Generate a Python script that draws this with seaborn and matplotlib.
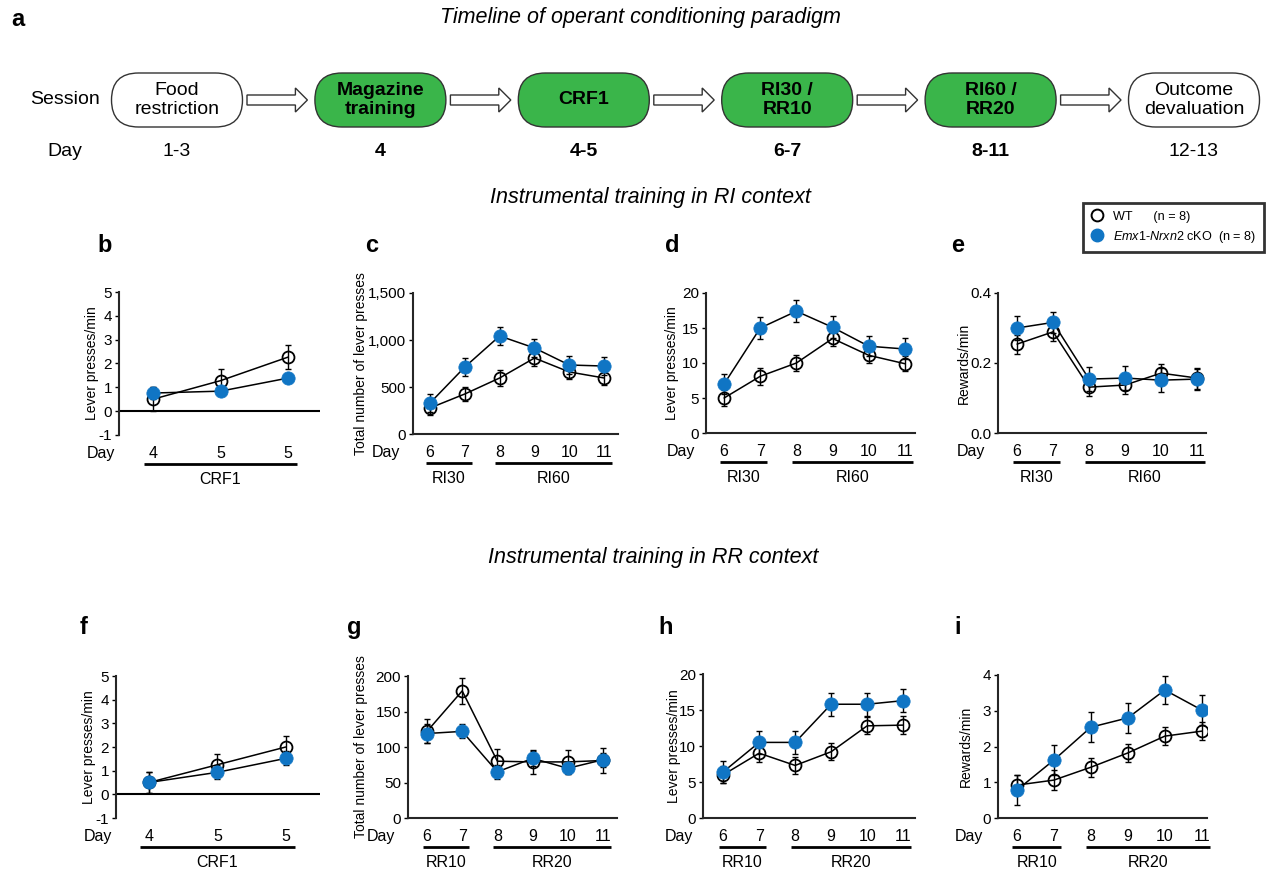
import numpy as np
import pandas as pd
import matplotlib
matplotlib.use("Agg")
import matplotlib.pyplot as plt
import matplotlib.transforms as mtrans
from matplotlib.patches import FancyBboxPatch, FancyArrow
from matplotlib.lines import Line2D
import seaborn as sns

# ---------------- data ----------------
sessions = ["Food\nrestriction", "Magazine\ntraining", "CRF1", "RI30 /\nRR10", "RI60 /\nRR20", "Outcome\ndevaluation"]
session_days = ["1-3", "4", "4-5", "6-7", "8-11", "12-13"]
session_active = [False, True, True, True, True, False]

crf_days = ["4", "5", "5"]
train_days = ["6", "7", "8", "9", "10", "11"]

# b : CRF1, RI context
b_wt = [0.50, 1.28, 2.27]
b_wt_err = [0.50, 0.50, 0.52]
b_ko = [0.76, 0.84, 1.39]
b_ko_err = [0.25, 0.12, 0.12]
# c : total lever presses, RI
c_wt = [277, 426, 596, 808, 660, 596]
c_wt_err = [80, 75, 85, 80, 75, 75]
c_ko = [330, 713, 1043, 915, 734, 723]
c_ko_err = [95, 96, 100, 100, 100, 96]
# d : lever presses/min, RI
d_wt = [5.0, 8.1, 10.0, 13.5, 11.1, 9.9]
d_wt_err = [1.2, 1.2, 1.2, 1.1, 1.1, 1.1]
d_ko = [7.0, 15.0, 17.4, 15.1, 12.4, 12.0]
d_ko_err = [1.4, 1.6, 1.6, 1.6, 1.4, 1.5]
# e : rewards/min, RI
e_wt = [0.254, 0.289, 0.131, 0.137, 0.171, 0.157]
e_wt_err = [0.027, 0.027, 0.025, 0.025, 0.027, 0.030]
e_ko = [0.300, 0.316, 0.154, 0.157, 0.151, 0.154]
e_ko_err = [0.034, 0.031, 0.034, 0.034, 0.034, 0.030]
# f : CRF1, RR context
f_wt = [0.50, 1.25, 2.00]
f_wt_err = [0.43, 0.45, 0.45]
f_ko = [0.50, 0.93, 1.52]
f_ko_err = [0.43, 0.30, 0.30]
# g : total lever presses, RR
g_wt = [122, 179, 80, 79, 79, 81]
g_wt_err = [17, 18, 17, 17, 17, 18]
g_ko = [119, 122, 65, 84, 70, 82]
g_ko_err = [13, 10, 10, 11, 8, 10]
# h : lever presses/min, RR
h_wt = [6.0, 9.0, 7.3, 9.2, 12.8, 12.9]
h_wt_err = [1.2, 1.2, 1.2, 1.2, 1.2, 1.2]
h_ko = [6.4, 10.5, 10.5, 15.8, 15.8, 16.3]
h_ko_err = [1.5, 1.6, 1.6, 1.6, 1.6, 1.6]
# i : rewards/min, RR
i_wt = [0.92, 1.06, 1.42, 1.82, 2.29, 2.43]
i_wt_err = [0.28, 0.28, 0.26, 0.26, 0.26, 0.25]
i_ko = [0.78, 1.62, 2.54, 2.80, 3.58, 3.02]
i_ko_err = [0.42, 0.42, 0.42, 0.42, 0.40, 0.42]

yt_crf = [-1, 0, 1, 2, 3, 4, 5]
yt_crf_lab = ["-1", "0", "1", "2", "3", "4", "5"]
yt_c = [0, 500, 1000, 1500]
yt_c_lab = ["0", "500", "1,000", "1,500"]
yt_rate = [0, 5, 10, 15, 20]
yt_rate_lab = ["0", "5", "10", "15", "20"]
yt_e = [0.0, 0.2, 0.4]
yt_e_lab = ["0.0", "0.2", "0.4"]
yt_g = [0, 50, 100, 150, 200]
yt_g_lab = ["0", "50", "100", "150", "200"]
yt_i = [0, 1, 2, 3, 4]
yt_i_lab = ["0", "1", "2", "3", "4"]

# ---------------- style ----------------
sns.set_theme(style="ticks")
plt.rcParams["font.family"] = ["Liberation Sans", "DejaVu Sans"]
plt.rcParams["mathtext.fontset"] = "custom"
plt.rcParams["mathtext.it"] = "Liberation Sans:italic"
plt.rcParams["mathtext.rm"] = "Liberation Sans"
plt.rcParams["text.color"] = "black"
plt.rcParams["axes.labelcolor"] = "black"
plt.rcParams["xtick.color"] = "black"
plt.rcParams["ytick.color"] = "black"

BLUE = "#1075C4"
GREEN = "#3AB54A"

W, H = 1273, 871
fig = plt.figure(figsize=(W / 100, H / 100), dpi=100)
fig.patch.set_facecolor("white")


def add_ax(l, t, r, b):
    return fig.add_axes([l / W, 1 - b / H, (r - l) / W, (b - t) / H])


def ftext(x, y, s, **kw):
    fig.text(x / W, 1 - y / H, s, **kw)


# ---------------- timeline (panel a) ----------------
ax_t = fig.add_axes([0, 0, 1, 1])
ax_t.set_xlim(0, W)
ax_t.set_ylim(H, 0)
ax_t.axis("off")
ax_t.patch.set_visible(False)

box_w, box_h, box_cy, day_y = 132, 54, 100, 152
centers = [177 + 203.4 * k for k in range(len(sessions))]
for k, (name, day, act) in enumerate(zip(sessions, session_days, session_active)):
    cx = centers[k]
    patch = FancyBboxPatch((cx - box_w / 2 + box_h / 2, box_cy - 0.5), box_w - box_h, 1,
                           boxstyle=f"round,pad={box_h / 2 - 0.5},rounding_size={box_h / 2}",
                           facecolor=GREEN if act else "white",
                           edgecolor="#333333", linewidth=1.0)
    ax_t.add_patch(patch)
    ax_t.text(cx, box_cy, name, ha="center", va="center", fontsize=14,
              fontweight="bold" if act else "normal", linespacing=1.1)
    ax_t.text(cx, day_y, day, ha="center", va="center", fontsize=14,
              fontweight="bold" if act else "normal")
    if k < len(sessions) - 1:
        x0 = cx + box_w / 2 + 4
        x1 = centers[k + 1] - box_w / 2 - 7
        ax_t.add_patch(FancyArrow(x0, box_cy, x1 - x0, 0, width=10, head_width=24,
                                  head_length=12, length_includes_head=True,
                                  facecolor="white", edgecolor="#333333", linewidth=1.0))
ax_t.text(65, box_cy, "Session", ha="center", va="center", fontsize=14)
ax_t.text(65, day_y, "Day", ha="center", va="center", fontsize=14)

ftext(640, 18, "Timeline of operant conditioning paradigm", ha="center", va="center",
      fontsize=15.5, style="italic")
ftext(650, 197, "Instrumental training in RI context", ha="center", va="center",
      fontsize=15.5, style="italic")
ftext(653, 558, "Instrumental training in RR context", ha="center", va="center",
      fontsize=15.5, style="italic")

for letter, (lx, ly) in {"a": (18, 20), "b": (105, 245), "c": (372, 245), "d": (672, 245),
                         "e": (958, 245), "f": (84, 627), "g": (354, 627),
                         "h": (666, 627), "i": (958, 627)}.items():
    ftext(lx, ly, letter, ha="center", va="center", fontsize=17, fontweight="bold")


# ---------------- data panels ----------------
def make_panel(box, xlim, xlabels, wt, wt_err, ko, ko_err, ylim, yticks, yticklabels,
               ylabel, groups, zero_line, day_gap, ylab_gap):
    l, t, r, b = box
    ax = add_ax(l, t, r, b)
    x = np.arange(len(xlabels))
    df = pd.DataFrame({"x": x, "WT": wt, "cKO": ko})
    ax.errorbar(df["x"], df["WT"], yerr=wt_err, fmt="none", ecolor="black",
                elinewidth=1.0, capsize=2.2, capthick=1.0, zorder=2)
    sns.lineplot(data=df, x="x", y="WT", ax=ax, color="black", linewidth=1.1, marker="o",
                 markersize=8.6, markerfacecolor="none", markeredgecolor="black",
                 markeredgewidth=1.3, errorbar=None, zorder=3)
    ax.errorbar(df["x"], df["cKO"], yerr=ko_err, fmt="none", ecolor="black",
                elinewidth=1.0, capsize=2.2, capthick=1.0, zorder=4)
    sns.lineplot(data=df, x="x", y="cKO", ax=ax, color="black", linewidth=1.1, marker="o",
                 markersize=9.6, markerfacecolor=BLUE, markeredgecolor=BLUE,
                 markeredgewidth=0.5, errorbar=None, zorder=5)
    ax.set_xlim(*xlim)
    ax.set_ylim(*ylim)
    ax.set_yticks(yticks)
    ax.set_yticklabels(yticklabels)
    ax.set_xticks(x)
    ax.set_xticklabels(xlabels)
    ax.set_xlabel("")
    ax.set_ylabel(ylabel, fontsize=10)
    ax.yaxis.set_label_coords(-ylab_gap / (r - l), 0.5)
    ax.tick_params(axis="x", length=0, pad=8, labelsize=11.5)
    ax.tick_params(axis="y", length=3, width=1, pad=2, labelsize=11, direction="out")
    ax.spines[["top", "right"]].set_visible(False)
    ax.spines["left"].set_linewidth(1.5)
    ax.spines["bottom"].set_linewidth(1.5)
    ax.set_facecolor("none")
    if zero_line:
        ax.spines["bottom"].set_visible(False)
        ax.axhline(0, color="black", linewidth=1.5, zorder=1)
    ax.annotate("Day", xy=(0, 0), xycoords="axes fraction",
                xytext=(-day_gap * 0.72, -8), textcoords="offset points",
                ha="right", va="top", fontsize=11.5)
    base = ax.get_xaxis_transform()
    tr_line = base + mtrans.ScaledTranslation(0, -29 / 100, fig.dpi_scale_trans)
    tr_lab = base + mtrans.ScaledTranslation(0, -37 / 100, fig.dpi_scale_trans)
    for name, g0, g1 in groups:
        ax.plot([g0, g1], [0, 0], transform=tr_line, clip_on=False, color="black",
                linewidth=2.0, solid_capstyle="butt")
        ax.text((g0 + g1) / 2, 0, name, transform=tr_lab, ha="center", va="top",
                fontsize=11.5)
    return ax


grp_crf = [("CRF1", -0.13, 2.13)]
grp_ri = [("RI30", -0.12, 1.2), ("RI60", 1.88, 5.22)]
grp_rr = [("RR10", -0.12, 1.2), ("RR20", 1.88, 5.22)]

make_panel((119, 292, 320, 435), (-0.5, 2.47), crf_days, b_wt, b_wt_err, b_ko, b_ko_err,
           (-1, 5), yt_crf, yt_crf_lab, "Lever presses/min", grp_crf, True, 4, 20)
make_panel((413, 293, 618, 434), (-0.49, 5.4), train_days, c_wt, c_wt_err, c_ko, c_ko_err,
           (0, 1500), yt_c, yt_c_lab, "Total number of lever presses", grp_ri, False, 13, 45)
make_panel((706, 293, 915, 433), (-0.5, 5.28), train_days, d_wt, d_wt_err, d_ko, d_ko_err,
           (0, 20), yt_rate, yt_rate_lab, "Lever presses/min", grp_ri, False, 11, 27)
make_panel((998, 293, 1206, 433), (-0.53, 5.25), train_days, e_wt, e_wt_err, e_ko, e_ko_err,
           (0, 0.4), yt_e, yt_e_lab, "Rewards/min", grp_ri, False, 13, 27)

make_panel((116, 676, 320, 818), (-0.48, 2.5), crf_days, f_wt, f_wt_err, f_ko, f_ko_err,
           (-1, 5), yt_crf, yt_crf_lab, "Lever presses/min", grp_crf, True, 4, 20)
make_panel((408, 676, 617, 818), (-0.54, 5.4), train_days, g_wt, g_wt_err, g_ko, g_ko_err,
           (0, 200), yt_g, yt_g_lab, "Total number of lever presses", grp_rr, False, 13, 40)
make_panel((703, 674, 915, 818), (-0.56, 5.33), train_days, h_wt, h_wt_err, h_ko, h_ko_err,
           (0, 20), yt_rate, yt_rate_lab, "Lever presses/min", grp_rr, False, 10, 22)
make_panel((998, 675, 1207, 818), (-0.51, 5.14), train_days, i_wt, i_wt_err, i_ko, i_ko_err,
           (0, 4), yt_i, yt_i_lab, "Rewards/min", grp_rr, False, 15, 25)

# ---------------- legend ----------------
handles = [Line2D([], [], marker="o", ls="none", mfc="none", mec="black", mew=1.4, ms=8.5),
           Line2D([], [], marker="o", ls="none", mfc=BLUE, mec=BLUE, ms=9)]
labels = ["WT      (n = 8)", r"$\mathit{Emx1}$-$\mathit{Nrxn2}$ cKO  (n = 8)"]
leg = fig.legend(handles, labels, loc="upper left", bbox_to_anchor=(1083 / W, 1 - 203 / H),
                 frameon=True, fancybox=False, edgecolor="black", fontsize=9.1,
                 handletextpad=0.8, borderpad=0.6, labelspacing=0.5, handlelength=1.0,
                 borderaxespad=0)
leg.get_frame().set_linewidth(2)

fig.savefig("out.png", dpi=100, facecolor="white")
